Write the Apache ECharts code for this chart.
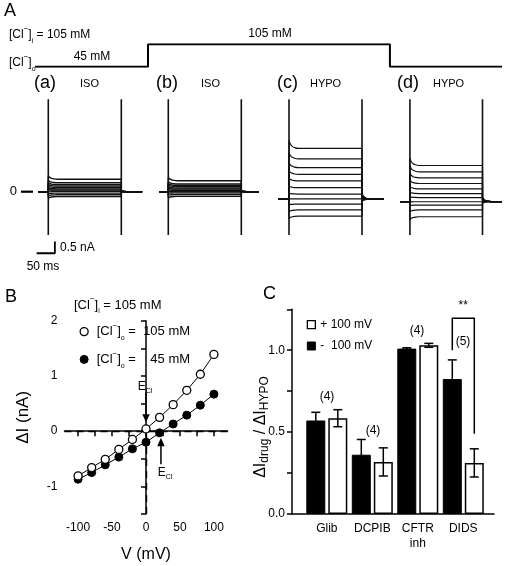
<!DOCTYPE html>
<html><head><meta charset="utf-8">
<script src="https://cdn.jsdelivr.net/npm/echarts@6/dist/echarts.min.js"></script>
<style>html,body{margin:0;padding:0;background:#fff}#c{width:505px;height:566px}</style>
</head><body><div id="c"></div>
<script>
// ---------- Panel A data ----------
const clSequence = [0, 24.2, 24.2, 76, 76, 100];      // position along the protocol (%)
const clConc = [45, 45, 105, 105, 45, 45];            // [Cl-]o, mM
const sweepLabels = ['(a)', '(b)', '(c)', '(d)'];
const sweepConditions = ['ISO', 'ISO', 'HYPO', 'HYPO'];
const pulseMs = [0, 200];
const transientNA = [-1.85, 3.95];
const holdNA = [0, 0, -0.32, -0.42];
const baselineStartMs = [-28, -24, -29, -27];
const baselineEndMs = [257, 248, 260, 253];
const levelsA = [0.53, 0.38, 0.30, 0.24, 0.18, 0.12, 0.07, 0.02, -0.06, -0.13, -0.21];
const levelsB = [0.47, 0.33, 0.27, 0.22, 0.16, 0.11, 0.06, 0.01, -0.05, -0.12, -0.20];
const levelsC = [1.85, 1.40, 1.03, 0.74, 0.46, 0.17, -0.10, -0.31, -0.53, -0.78, -1.04];
const levelsD = [1.12, 0.85, 0.59, 0.35, 0.12, -0.08, -0.25, -0.43, -0.57, -0.78, -1.07];
const onsetMs = [0, 2, 5, 9, 15, 25];
const onsetFraction = [1, 0.7, 0.45, 0.25, 0.1, 0];
const onsetGain = [0.3, 0.3, 0.16, 0.2];
const tailGain = [0.1, 0.1, 0.12, 0.12];
const scaleBarMs = [-32, 18];
const scaleBarNA = [-2.63, -2.13];

// ---------- Panel B data ----------
const voltages = [-100, -80, -60, -40, -20, 0, 20, 40, 60, 80, 100];
const dI105 = [-0.81, -0.66, -0.51, -0.33, -0.15, 0.04, 0.25, 0.48, 0.74, 1.03, 1.39];
const dI45 = [-0.87, -0.75, -0.61, -0.47, -0.32, -0.20, -0.03, 0.13, 0.29, 0.47, 0.67];
const eClmV = [0, 22];
const bXTicks = [-100, -75, -50, -25, 0, 25, 50, 75, 100];
const bXLabels = [-100, -50, 0, 50, 100];
const bYTicks = [-1.5, -1, -0.5, 0, 0.5, 1, 1.5, 2];
const bYLabels = [-1, 0, 1, 2];

// ---------- Panel C data ----------
const drugs = ['Glib', 'DCPIB', 'CFTR\ninh', 'DIDS'];
const ratioNeg100 = [0.571, 0.362, 1.01, 0.824];
const semNeg100 = [0.05, 0.093, 0.005, 0.117];
const ratioPos100 = [0.585, 0.318, 1.03, 0.312];
const semPos100 = [0.052, 0.086, 0.012, 0.086];
const nCells = ['(4)', '(4)', '(4)', '(5)'];
const cYTicks = [0, 0.25, 0.5, 0.75, 1, 1.25];
const cYLabels = [0, 0.5, 1];

// ---------- layout ----------
const FONT = '"Liberation Sans", Arial, Helvetica, sans-serif';
const PXMS = 0.365, PXNA = 23.4, ZERO_Y = 191.7, XMIN = -35, XMAX = 262, YMIN = -3, YMAX = 4;
const pulseLeftPx = [48.3, 168.3, 289, 410];
const allLevels = [levelsA, levelsB, levelsC, levelsD];

const chart = echarts.init(document.getElementById('c'), null, {renderer: 'canvas'});

const grids = [{left: 35, top: 44.3, width: 467, height: 22.4}];
const xAxes = [{gridIndex: 0, type: 'value', min: 0, max: 100, show: false}];
const yAxes = [{gridIndex: 0, type: 'value', min: 45, max: 105, show: false}];
pulseLeftPx.forEach((p, i) => {
  grids.push({left: p + XMIN * PXMS, top: ZERO_Y - YMAX * PXNA, width: (XMAX - XMIN) * PXMS, height: (YMAX - YMIN) * PXNA});
  xAxes.push({gridIndex: i + 1, type: 'value', min: XMIN, max: XMAX, show: false});
  if (i === 0) {
    yAxes.push({gridIndex: 1, type: 'value', min: YMIN, max: YMAX, offset: 2.5,
      axisLine: {show: false}, splitLine: {show: false}, axisTick: {show: false},
      axisLabel: {customValues: [0], margin: 16, color: '#000', fontSize: 13, fontFamily: FONT}});
  } else {
    yAxes.push({gridIndex: i + 1, type: 'value', min: YMIN, max: YMAX, show: false});
  }
});
// B
grids.push({left: 64.5, top: 320.7, width: 163, height: 193.3});
const axisLineStyle = {color: '#000', width: 1.5};
xAxes.push({gridIndex: 5, type: 'value', min: -120, max: 120,
  axisLine: {lineStyle: axisLineStyle}, splitLine: {show: false},
  axisTick: {customValues: bXTicks, length: 5, lineStyle: axisLineStyle},
  axisLabel: {customValues: bXLabels, color: '#000', fontSize: 12, fontFamily: FONT, margin: 8},
  name: 'V (mV)', nameLocation: 'middle', nameGap: 33,
  nameTextStyle: {fontSize: 16, color: '#000', fontFamily: FONT}});
yAxes.push({gridIndex: 5, type: 'value', min: -1.5, max: 2,
  axisLine: {lineStyle: axisLineStyle}, splitLine: {show: false},
  axisTick: {customValues: bYTicks, length: 5, lineStyle: axisLineStyle},
  axisLabel: {customValues: bYLabels, color: '#000', fontSize: 12, fontFamily: FONT, margin: 7},
  name: 'ΔI (nA)', nameLocation: 'middle', nameGap: 33,
  nameTextStyle: {fontSize: 17, color: '#000', fontFamily: FONT}});
// C
grids.push({left: 292, top: 309.3, width: 202, height: 204.7});
xAxes.push({gridIndex: 6, type: 'value', min: 0.235, max: 4.675,
  axisLine: {lineStyle: axisLineStyle}, splitLine: {show: false}, axisTick: {show: false},
  axisLabel: {customValues: [1, 2, 3, 4], formatter: v => drugs[Math.round(v) - 1],
    color: '#000', fontSize: 12, fontFamily: FONT, margin: 7, lineHeight: 15}});
yAxes.push({gridIndex: 6, type: 'value', min: 0, max: 1.25,
  axisLine: {lineStyle: axisLineStyle}, splitLine: {show: false},
  axisTick: {customValues: cYTicks, length: 5, lineStyle: axisLineStyle},
  axisLabel: {customValues: cYLabels, formatter: v => v.toFixed(1), color: '#000', fontSize: 12, fontFamily: FONT, margin: 7}});

const series = [];
// [Cl-]o protocol line
series.push({type: 'line', xAxisIndex: 0, yAxisIndex: 0, silent: true, symbol: 'none',
  data: clSequence.map((t, i) => [t, clConc[i]]), lineStyle: {color: '#000', width: 2}});
// sweeps
allLevels.forEach((levels, p) => {
  const hold = holdNA[p];
  levels.forEach(L => {
    const d = [[baselineStartMs[p], hold], [pulseMs[0], hold]];
    onsetMs.forEach((t, j) => d.push([pulseMs[0] + t, L + onsetGain[p] * (L - hold) * onsetFraction[j]]));
    d.push([pulseMs[1], L]);
    onsetMs.forEach((t, j) => d.push([pulseMs[1] + t, hold + tailGain[p] * (L - hold) * onsetFraction[j]]));
    d.push([baselineEndMs[p], hold]);
    series.push({type: 'line', xAxisIndex: p + 1, yAxisIndex: p + 1, silent: true, symbol: 'none',
      smooth: 0.3, data: d, lineStyle: {color: '#111', width: p < 2 ? 1.4 : 1.2}});
  });
  pulseMs.forEach(t => series.push({type: 'line', xAxisIndex: p + 1, yAxisIndex: p + 1, silent: true, symbol: 'none',
    data: [[t, transientNA[0]], [t, transientNA[1]]], lineStyle: {color: '#111', width: 1.6}}));
});
// scale bar
series.push({type: 'line', xAxisIndex: 1, yAxisIndex: 1, silent: true, symbol: 'none',
  data: [[scaleBarMs[0], scaleBarNA[0]], [scaleBarMs[1], scaleBarNA[0]], [scaleBarMs[1], scaleBarNA[1]]],
  lineStyle: {color: '#000', width: 1.8}});
// B
series.push({type: 'line', name: '45', xAxisIndex: 5, yAxisIndex: 5, symbol: 'circle', symbolSize: 8,
  data: voltages.map((v, i) => [v, dI45[i]]), itemStyle: {color: '#000', borderColor: '#000', borderWidth: 1},
  lineStyle: {color: '#000', width: 1}, z: 3,
  markLine: {silent: true, symbol: ['none', 'none'], label: {show: false},
    lineStyle: {type: [7, 5], color: '#000', width: 1.4},
    data: [{yAxis: 0}, [{coord: [0, -1.5]}, {coord: [0, 0]}]]}});
series.push({type: 'line', name: '105', xAxisIndex: 5, yAxisIndex: 5, symbol: 'circle', symbolSize: 8,
  data: voltages.map((v, i) => [v, dI105[i]]), itemStyle: {color: '#fff', borderColor: '#000', borderWidth: 1.3},
  lineStyle: {color: '#000', width: 1}, z: 4});
// C bars
const BARW = 19, GAP = 3, OFF = (BARW + GAP) / 2;
series.push({type: 'bar', name: '-  100 mV', xAxisIndex: 6, yAxisIndex: 6, barWidth: BARW, barGap: (GAP / BARW * 100) + '%',
  data: ratioNeg100.map((v, i) => [i + 1, v]), itemStyle: {color: '#000', borderColor: '#000', borderWidth: 1}});
series.push({type: 'bar', name: '+ 100 mV', xAxisIndex: 6, yAxisIndex: 6, barWidth: BARW, barGap: (GAP / BARW * 100) + '%',
  data: ratioPos100.map((v, i) => [i + 1, v]), itemStyle: {color: '#fff', borderColor: '#000', borderWidth: 1.5}});
function errSeries(means, sems, off) {
  return {type: 'custom', xAxisIndex: 6, yAxisIndex: 6, silent: true, z: 5,
    data: means.map((m, i) => [i + 1, m, sems[i]]), encode: {x: 0, y: 1},
    renderItem: (params, api) => {
      const x = api.value(0), m = api.value(1), e = api.value(2);
      const top = api.coord([x, m + e]), bot = api.coord([x, m - e]);
      const cx = top[0] + off, st = {stroke: '#000', lineWidth: 1.5};
      return {type: 'group', children: [
        {type: 'line', shape: {x1: cx, y1: top[1], x2: cx, y2: bot[1]}, style: st},
        {type: 'line', shape: {x1: cx - 4.5, y1: top[1], x2: cx + 4.5, y2: top[1]}, style: st},
        {type: 'line', shape: {x1: cx - 4.5, y1: bot[1], x2: cx + 4.5, y2: bot[1]}, style: st}]};
    }};
}
series.push(errSeries(ratioNeg100, semNeg100, -OFF));
series.push(errSeries(ratioPos100, semPos100, OFF));

function clRichOf(size) {
  return {
    t: {fontSize: size, fontFamily: FONT, lineHeight: 20, verticalAlign: 'middle', color: '#000'},
    sp: {fontSize: 8, fontFamily: FONT, lineHeight: 8, verticalAlign: 'top', color: '#000'},
    sb: {fontSize: 7, fontFamily: FONT, lineHeight: 8, verticalAlign: 'bottom', color: '#000'}
  };
}

const legends = [
  {orient: 'vertical', left: 79.5, top: 321.6, padding: 0, itemWidth: 15, itemHeight: 8, itemGap: 7.8,
    selectedMode: false,
    data: [{name: '105', icon: 'circle', itemStyle: {color: '#fff', borderColor: '#000', borderWidth: 1.3}},
           {name: '45', icon: 'circle', itemStyle: {color: '#000', borderColor: '#000', borderWidth: 1}}],
    formatter: n => n === '105' ? '{t|[Cl}{sp|−}{t|]}{sb|o}{t| =  105 mM}' : '{t|[Cl}{sp|−}{t|]}{sb|o}{t| =    45 mM}',
    textStyle: {rich: clRichOf(13)}},
  {orient: 'vertical', left: 306.7, top: 318.6, padding: 0, itemWidth: 8, itemHeight: 8, itemGap: 9.4,
    selectedMode: false,
    data: [{name: '+ 100 mV', icon: 'rect', itemStyle: {color: '#fff', borderColor: '#000', borderWidth: 1.3}},
           {name: '-  100 mV', icon: 'rect', itemStyle: {color: '#000', borderColor: '#000', borderWidth: 1}}],
    textStyle: {fontSize: 12, fontFamily: FONT, color: '#000'}}
];

function txt(x, y, text, size, align, extra) {
  return Object.assign({type: 'text', z: 100, silent: true,
    style: {x: x, y: y, text: text, fontSize: size, fontFamily: FONT, fill: '#000', align: align || 'left', verticalAlign: 'middle'}}, extra || {});
}
const graphic = [
  txt(4, 11, 'A', 18),
  {type: 'text', z: 100, style: {x: 9, y: 35, text: '{t|[Cl}{sp|−}{t|]}{sb|i}{t| = 105 mM}', rich: clRichOf(12), verticalAlign: 'middle'}},
  {type: 'text', z: 100, style: {x: 9, y: 63, text: '{t|[Cl}{sp|−}{t|]}{sb|o}', rich: clRichOf(12), verticalAlign: 'middle'}},
  txt(92, 57, '45 mM', 12, 'center'),
  txt(270, 34, '105 mM', 12, 'center'),
  {type: 'line', z: 100, shape: {x1: 21, y1: ZERO_Y, x2: 33, y2: ZERO_Y}, style: {stroke: '#000', lineWidth: 2.2}},
  txt(60, 248, '0.5 nA', 12),
  txt(43, 267, '50 ms', 12, 'center'),
  txt(5, 297, 'B', 18),
  {type: 'text', z: 100, style: {x: 74, y: 305, text: '{t|[Cl}{sp|−}{t|]}{sb|i}{t| = 105 mM}', rich: clRichOf(13), verticalAlign: 'middle'}},
  txt(263, 294, 'C', 18),
  {type: 'text', z: 100, x: 261, y: 427, rotation: Math.PI / 2,
    style: {text: '{a|ΔI}{s|drug}{a| / ΔI}{s|HYPO}', align: 'center', verticalAlign: 'middle',
      rich: {a: {fontSize: 16, fontFamily: FONT, lineHeight: 20, verticalAlign: 'middle'},
             s: {fontSize: 12, fontFamily: FONT, lineHeight: 14, verticalAlign: 'bottom'}}}}
];
const sweepLabelX = [34, 156, 277, 397];
const sweepCondX = [80, 201, 310, 433];
sweepLabels.forEach((s, i) => {
  graphic.push(txt(sweepLabelX[i], 83, s, 18));
  graphic.push(txt(sweepCondX[i], 84, sweepConditions[i], 11));
});

chart.setOption({
  animation: false,
  backgroundColor: '#fff',
  textStyle: {fontFamily: FONT},
  grid: grids, xAxis: xAxes, yAxis: yAxes, series: series, legend: legends, graphic: graphic
});

// annotations anchored on the axes
const extra = [];
const eRich = {e: {fontSize: 12, fontFamily: FONT, lineHeight: 14, verticalAlign: 'middle'},
               c: {fontSize: 7, fontFamily: FONT, lineHeight: 10, verticalAlign: 'bottom'}};
const a1 = chart.convertToPixel({gridIndex: 5}, [eClmV[0], 0]);
const a2 = chart.convertToPixel({gridIndex: 5}, [eClmV[1], 0]);
extra.push({type: 'line', z: 100, shape: {x1: a1[0], y1: a1[1] - 39, x2: a1[0], y2: a1[1] - 15}, style: {stroke: '#000', lineWidth: 1.5}});
extra.push({type: 'polygon', z: 100, shape: {points: [[a1[0] - 3.7, a1[1] - 17], [a1[0] + 3.7, a1[1] - 17], [a1[0], a1[1] - 9]]}, style: {fill: '#000'}});
extra.push({type: 'text', z: 100, style: {x: a1[0] - 1, y: a1[1] - 44, text: '{e|E}{c|Cl}', rich: eRich, align: 'center', verticalAlign: 'middle'}});
extra.push({type: 'line', z: 100, shape: {x1: a2[0], y1: a2[1] + 33, x2: a2[0], y2: a2[1] + 12}, style: {stroke: '#000', lineWidth: 1.5}});
extra.push({type: 'polygon', z: 100, shape: {points: [[a2[0] - 3.7, a2[1] + 15], [a2[0] + 3.7, a2[1] + 15], [a2[0], a2[1] + 6.5]]}, style: {fill: '#000'}});
extra.push({type: 'text', z: 100, style: {x: a2[0] + 4, y: a2[1] + 42, text: '{e|E}{c|Cl}', rich: eRich, align: 'center', verticalAlign: 'middle'}});
// n labels above each group
const nLabelPos = [[327, 396.7], [373, 431], [417, 330.7], [463, 341.7]];
nCells.forEach((n, i) => extra.push(txt(nLabelPos[i][0], nLabelPos[i][1], n, 12, 'center')));
// significance bracket on DIDS
const dL = chart.convertToPixel({gridIndex: 6}, [4, 1.0]);
const dT = chart.convertToPixel({gridIndex: 6}, [4, 1.195]);
const dR = chart.convertToPixel({gridIndex: 6}, [4, 0.49]);
extra.push({type: 'polyline', z: 100, shape: {points: [[dL[0] - OFF, dL[1]], [dT[0] - OFF, dT[1]], [dT[0] + OFF, dT[1]], [dR[0] + OFF, dR[1]]]},
  style: {stroke: '#000', lineWidth: 1.5, fill: null}});
extra.push(txt(dT[0], dT[1] - 13, '**', 12, 'center', {}));
chart.setOption({graphic: graphic.concat(extra)});
</script></body></html>
